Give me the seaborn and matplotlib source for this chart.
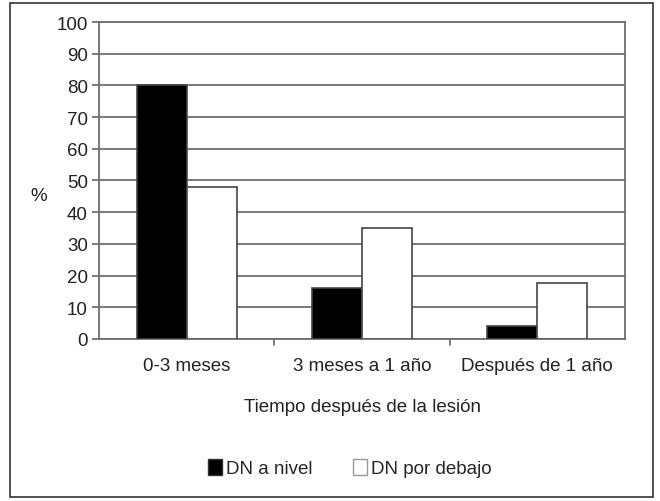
import matplotlib
matplotlib.use("Agg")
import matplotlib.pyplot as plt
import seaborn as sns
import pandas as pd
from matplotlib.patches import Patch, Rectangle

categories = ["0-3 meses", "3 meses a 1 año", "Después de 1 año"]
series_names = ["DN a nivel", "DN por debajo"]
dn_nivel = [80, 16, 4]
dn_debajo = [48, 35, 17.5]
yticks = [0, 10, 20, 30, 40, 50, 60, 70, 80, 90, 100]

df = pd.DataFrame({
    "cat": categories * 2,
    "serie": [series_names[0]] * 3 + [series_names[1]] * 3,
    "val": dn_nivel + dn_debajo,
})

sns.set_style("white")
plt.rcParams["font.family"] = ["Liberation Sans", "DejaVu Sans"]
FS = 13.5

fig = plt.figure(figsize=(6.6, 5.02), dpi=100)
ax = fig.add_axes([0.150, 0.323, 0.797, 0.631])
sns.barplot(data=df, x="cat", y="val", hue="serie", order=categories,
            hue_order=series_names, palette=["black", "white"],
            edgecolor="#444444", linewidth=1.2, width=0.57, ax=ax,
            legend=False, zorder=3)

ax.set_ylim(0, 100)
ax.set_xlim(-0.5, 2.5)
ax.set_yticks(yticks)
ax.set_yticklabels([str(t) for t in yticks], fontsize=FS, color="#222222")
ax.yaxis.grid(True, color="#6e6e6e", linewidth=1.3, zorder=0)
ax.set_axisbelow(True)
ax.set_xticks([0, 1, 2])
ax.set_xticklabels(categories, fontsize=FS, color="#222222")
ax.tick_params(axis="x", length=0, pad=13)
ax.tick_params(axis="y", length=5, width=1.2, color="#666666", pad=3, left=True)
for b in [0.5, 1.5]:
    ax.plot([b, b], [0, -2.0], color="#666666", lw=1.2, clip_on=False)
for s in ax.spines.values():
    s.set_visible(True)
    s.set_color("#6e6e6e")
    s.set_linewidth(1.3)
ax.set_xlabel("Tiempo después de la lesión", fontsize=FS, color="#222222", labelpad=17)
ax.set_ylabel("%", fontsize=FS, rotation=0, color="#222222")
ax.yaxis.set_label_coords(-0.115, 0.425)

handles = [Patch(facecolor="black", edgecolor="#333333", label=series_names[0]),
           Patch(facecolor="white", edgecolor="#999999", label=series_names[1])]
fig.legend(handles=handles, loc="center", bbox_to_anchor=(0.53, 0.066), ncol=2,
           frameon=False, fontsize=FS, handlelength=0.75, handleheight=0.95,
           handletextpad=0.2, columnspacing=2.2)

fig.patches.append(Rectangle((0.015, 0.008), 0.975, 0.984, transform=fig.transFigure,
                             fill=False, edgecolor="#333333", linewidth=1.2))
fig.savefig("out.png", dpi=100, facecolor="white")
